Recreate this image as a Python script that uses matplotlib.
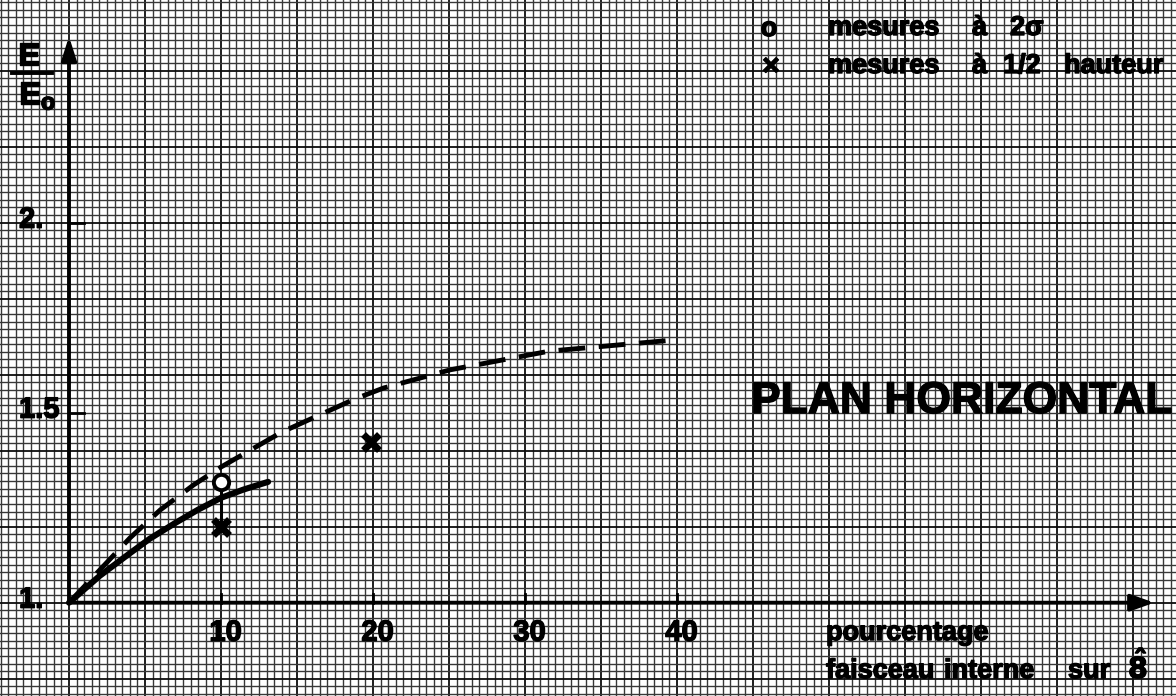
import numpy as np
import matplotlib
matplotlib.use("Agg")
import matplotlib.pyplot as plt
import matplotlib.patheffects as pe

# ---- data ----
solid_x = [0, 2, 4, 5.3, 7, 8.5, 10, 11.5, 13.1]
solid_y = [1.0, 1.07, 1.13, 1.168, 1.21, 1.245, 1.276, 1.298, 1.318]

dashed_x = [0, 2, 4, 6, 8.2, 10, 14, 18.8, 20.7, 25.1, 31.6, 39.7]
dashed_y = [1.0, 1.085, 1.17, 1.244, 1.31, 1.357, 1.449, 1.536, 1.565, 1.613, 1.662, 1.691]

circle_x = [10]
circle_y = [1.318]
cross_x = [10, 19.9]
cross_y = [1.2, 1.422]

xtick_vals = [10, 20, 30, 40]
xtick_labels = ["10", "20", "30", "40"]
ytick_vals = [1.0, 1.5, 2.0]
ytick_labels = ["1.", "1.5", "2."]

W, H = 1176, 696
fig = plt.figure(figsize=(W / 100, H / 100), dpi=100)
ax = fig.add_axes([0, 0, 1, 1])

# pixel mapping: px_x = 69 + 15.2*x ; px_y = 602.7 - 380*(y-1)
x0, sx = 69.0, 15.2
y0, sy = 602.7, 380.0
xmin, xmax = -x0 / sx, (W - x0) / sx
ymax, ymin = 1 + y0 / sy, 1 - (H - y0) / sy
ax.set_xlim(xmin, xmax)
ax.set_ylim(ymin, ymax)

# graph paper
for k in range(int(np.floor(xmin / 0.5)), int(np.ceil(xmax / 0.5)) + 1):
    xv = k * 0.5
    major = (k % 10 == 0)
    ax.axvline(xv, color="0.05" if major else "0.22", lw=1.3 if major else 1.0, zorder=0)
for k in range(int(np.floor((ymin - 1) / 0.02)), int(np.ceil((ymax - 1) / 0.02)) + 1):
    yv = 1 + k * 0.02
    major = (k % 10 == 0)
    ax.axhline(yv, color="0.05" if major else "0.22", lw=1.3 if major else 1.0, zorder=0)

for s in ax.spines.values():
    s.set_visible(False)
ax.set_xticks([])
ax.set_yticks([])

def P(px, py):
    return (px / W, 1 - py / H)

thick = [pe.withStroke(linewidth=1.0, foreground="black")]
bold = dict(fontweight="bold", family="Liberation Sans", color="black", path_effects=thick)

# axes with arrows
ax.annotate("", xy=(71.4, 1.0), xytext=(0, 1.0),
            arrowprops=dict(arrowstyle="-|>,head_length=1.4,head_width=0.5", lw=2.8, color="black",
                            shrinkA=0, shrinkB=0), zorder=5)
ax.annotate("", xy=(0, 2.49), xytext=(0, 1.0),
            arrowprops=dict(arrowstyle="-|>,head_length=1.4,head_width=0.45", lw=2.8, color="black",
                            shrinkA=0, shrinkB=0), zorder=5)

# ticks
for xv, lab in zip(xtick_vals, xtick_labels):
    ax.plot([xv, xv], [1.0, 1.0 + 9 / sy], color="black", lw=2, zorder=5)
    ax.text(xv + 0.3, 1.0 - 30 / sy, lab, ha="center", va="center", fontsize=21, **bold)
for yv, lab in zip(ytick_vals, ytick_labels):
    if yv != 1.0:
        ax.plot([0, 15 / sx], [yv, yv], color="black", lw=2, zorder=5)
    ax.text(-50 / sx, yv + 3 / sy, lab, ha="left", va="center", fontsize=21, **bold)

# curves
ax.plot(solid_x, solid_y, color="black", lw=4.4, solid_capstyle="round", zorder=6)
ax.plot(dashed_x, dashed_y, color="black", lw=3.5, dashes=(5.5, 2.8), zorder=6)

# error bar & markers
ax.plot([circle_x[0], cross_x[0]], [circle_y[0], cross_y[0]], color="black", lw=2.2, zorder=6)
ax.plot(circle_x, circle_y, "o", ms=11, mfc="white", mec="black", mew=2.8, zorder=7)
ax.plot(cross_x, cross_y, "x", ms=12, mec="black", mew=5, zorder=7)

# y label E / Eo
fig.text(*P(29, 57), "E", ha="center", va="center", fontsize=23, **bold)
fig.add_artist(plt.Line2D([12 / W, 52 / W], [1 - 73 / H, 1 - 73 / H], color="black", lw=2.8))
fig.text(*P(30, 96), "E", ha="center", va="center", fontsize=23, **bold)
fig.text(*P(48, 103), "o", ha="center", va="center", fontsize=17, **bold)

# legend
fs = 19.5
fig.text(*P(769, 29), "o", ha="center", va="center", fontsize=fs, **bold)
fig.text(*P(771, 67), "×", ha="center", va="center", fontsize=fs + 2, **bold)
for txt, px in [("mesures", 828), ("à", 972), ("2σ", 1010)]:
    fig.text(*P(px, 35), txt, ha="left", va="baseline", fontsize=fs, **bold)
for txt, px in [("mesures", 828), ("à", 972), ("1/2", 1003), ("hauteur", 1064)]:
    fig.text(*P(px, 73), txt, ha="left", va="baseline", fontsize=fs, **bold)

# title
fig.text(*P(751, 413), "PLAN HORIZONTAL", ha="left", va="baseline", fontsize=32, **bold)

# x label
fig.text(*P(826, 640), "pourcentage", ha="left", va="baseline", fontsize=fs, **bold)
for txt, px in [("faisceau", 826), ("interne", 944), ("sur", 1068)]:
    fig.text(*P(px, 678), txt, ha="left", va="baseline", fontsize=fs, **bold)
fig.text(*P(1128, 678), r"$\mathbf{\hat{8}}$", ha="left", va="baseline", fontsize=fs + 1,
         color="black", path_effects=thick)

fig.savefig("out.png", dpi=100)
